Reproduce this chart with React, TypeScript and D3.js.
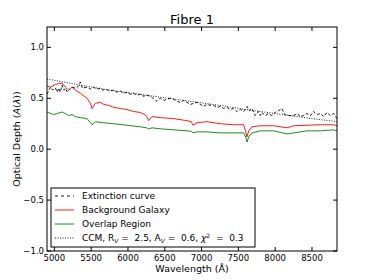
import React from "react";
import { scaleLinear, line } from "d3";

// wavelengths (Å) and optical depths
const galaxyWave = [4900, 4946, 5014, 5059, 5105, 5149, 5195, 5240, 5285, 5353, 5444, 5490, 5512, 5557, 5625, 5670, 5738, 5806, 5896, 5987, 6078, 6168, 6250, 6281, 6327, 6440, 6621, 6802, 6860, 6884, 6938, 7074, 7255, 7436, 7572, 7600, 7617, 7640, 7685, 7798, 7979, 8160, 8250, 8431, 8613, 8794, 8840];
const galaxyDepth = [0.62, 0.61, 0.635, 0.645, 0.65, 0.61, 0.58, 0.61, 0.58, 0.55, 0.5, 0.45, 0.4, 0.45, 0.46, 0.44, 0.43, 0.41, 0.4, 0.39, 0.37, 0.36, 0.33, 0.28, 0.32, 0.31, 0.3, 0.28, 0.27, 0.234, 0.26, 0.27, 0.25, 0.24, 0.24, 0.17, 0.12, 0.18, 0.22, 0.23, 0.23, 0.21, 0.23, 0.235, 0.24, 0.24, 0.23];

const overlapWave = [4900, 4990, 5105, 5150, 5195, 5240, 5285, 5353, 5444, 5512, 5557, 5670, 5806, 5987, 6168, 6250, 6281, 6327, 6440, 6621, 6802, 6860, 6884, 6938, 7074, 7255, 7436, 7572, 7600, 7617, 7640, 7685, 7798, 7979, 8160, 8250, 8431, 8613, 8794, 8840];
const overlapDepth = [0.365, 0.34, 0.365, 0.35, 0.33, 0.34, 0.32, 0.31, 0.3, 0.24, 0.27, 0.26, 0.25, 0.235, 0.22, 0.21, 0.2, 0.21, 0.2, 0.19, 0.18, 0.175, 0.16, 0.17, 0.17, 0.16, 0.16, 0.16, 0.12, 0.07, 0.12, 0.16, 0.18, 0.18, 0.15, 0.16, 0.18, 0.18, 0.19, 0.18];

const extWave = [4900, 4920, 4946, 4980, 5014, 5040, 5059, 5080, 5105, 5130, 5149, 5175, 5195, 5240, 5285, 5330, 5353, 5380, 5444, 5490, 5530, 5580, 5625, 5660, 5700, 5750, 5806, 5850, 5896, 5940, 5987, 6030, 6078, 6120, 6168, 6210, 6259, 6300, 6327, 6380, 6440, 6490, 6530, 6580, 6621, 6670, 6710, 6760, 6802, 6850, 6890, 6940, 6983, 7030, 7074, 7120, 7164, 7210, 7255, 7300, 7345, 7390, 7436, 7480, 7530, 7572, 7617, 7650, 7685, 7730, 7774, 7800, 7819, 7864, 7909, 7955, 8000, 8050, 8090, 8130, 8180, 8250, 8300, 8340, 8385, 8431, 8480, 8520, 8570, 8613, 8660, 8704, 8750, 8794, 8840];
const extDepth = [0.54, 0.57, 0.61, 0.58, 0.6, 0.56, 0.6, 0.56, 0.63, 0.58, 0.6, 0.56, 0.58, 0.61, 0.6, 0.62, 0.66, 0.6, 0.61, 0.59, 0.61, 0.59, 0.6, 0.58, 0.59, 0.57, 0.58, 0.56, 0.57, 0.55, 0.56, 0.54, 0.55, 0.53, 0.54, 0.52, 0.53, 0.52, 0.51, 0.47, 0.5, 0.48, 0.49, 0.5, 0.49, 0.47, 0.46, 0.48, 0.46, 0.44, 0.45, 0.46, 0.44, 0.42, 0.44, 0.43, 0.43, 0.41, 0.42, 0.4, 0.41, 0.39, 0.4, 0.37, 0.39, 0.37, 0.42, 0.38, 0.4, 0.33, 0.37, 0.33, 0.36, 0.33, 0.35, 0.33, 0.36, 0.38, 0.4, 0.34, 0.33, 0.33, 0.35, 0.32, 0.33, 0.35, 0.33, 0.37, 0.34, 0.35, 0.32, 0.36, 0.33, 0.35, 0.3];

const ccmWave = [4900, 5200, 5500, 5800, 6100, 6400, 6700, 7000, 7300, 7600, 7900, 8200, 8500, 8840];
const ccmDepth = [0.69, 0.65, 0.61, 0.575, 0.545, 0.515, 0.485, 0.455, 0.425, 0.39, 0.36, 0.33, 0.3, 0.27];

const xTicks = [5000, 5500, 6000, 6500, 7000, 7500, 8000, 8500];
const yTicks = [-1, -0.5, 0, 0.5, 1];

const font = "DejaVu Sans, sans-serif";
const sp = "\u00a0";

export default function App() {
  const width = 374,
    height = 280,
    left = 47,
    right = 337,
    top = 27,
    bottom = 251,
    x = scaleLinear().domain([4900, 8840]).range([left, right]),
    y = scaleLinear().domain([-1, 1.2]).range([bottom, top]);

  const path = (ws: number[], vs: number[]) =>
    line<number>()
      .x((_, i) => x(ws[i]))
      .y((v) => y(v))(vs) as string;

  const fmt = (v: number) => (v < 0 ? "\u2212" : "") + Math.abs(v).toFixed(1);

  const legend = [
    { dash: "3,3", color: "#000" },
    { dash: "", color: "#ff0000" },
    { dash: "", color: "#008000" },
    { dash: "1,1.5", color: "#000" },
  ];

  return (
    <svg
      width={width}
      height={height}
      style={{ position: "absolute", left: 0, top: 0, background: "#fff" }}
      fontFamily={font}
    >
      <defs>
        <clipPath id="plot">
          <rect x={left} y={top} width={right - left} height={bottom - top} />
        </clipPath>
      </defs>
      <text x={(left + right) / 2} y={24} textAnchor="middle" fontSize={13}>
        Fibre 1
      </text>

      <g clipPath="url(#plot)" fill="none" strokeWidth={0.9}>
        <path d={path(ccmWave, ccmDepth)} stroke="#000" strokeDasharray="1,1.5" />
        <path d={path(extWave, extDepth)} stroke="#000" strokeDasharray="3,2" />
        <path d={path(galaxyWave, galaxyDepth)} stroke="#ff0000" />
        <path d={path(overlapWave, overlapDepth)} stroke="#008000" />
      </g>

      <rect x={left} y={top} width={right - left} height={bottom - top} fill="none" stroke="#000" strokeWidth={1} />

      {xTicks.map((t) => (
        <g key={t} transform={`translate(${x(t)},0)`}>
          <line y1={bottom} y2={bottom - 4} stroke="#000" />
          <line y1={top} y2={top + 4} stroke="#000" />
          <text y={261} textAnchor="middle" fontSize={8.5}>
            {t}
          </text>
        </g>
      ))}
      {yTicks.map((t) => (
        <g key={t} transform={`translate(0,${y(t)})`}>
          <line x1={left} x2={left + 4} stroke="#000" />
          <line x1={right} x2={right - 4} stroke="#000" />
          <text x={left - 3} dy="0.32em" textAnchor="end" fontSize={8.5}>
            {fmt(t)}
          </text>
        </g>
      ))}

      <text x={(left + right) / 2} y={272} textAnchor="middle" fontSize={9.5}>
        Wavelength (Å)
      </text>
      <text
        transform={`translate(20,${(top + bottom) / 2}) rotate(-90)`}
        textAnchor="middle"
        fontSize={9.5}
      >
        Optical Depth (<tspan fontStyle="italic">A</tspan>(<tspan fontStyle="italic">λ</tspan>))
      </text>

      <g transform="translate(51,188)">
        <rect width={204} height={59} fill="#fff" stroke="#000" strokeWidth={1} />
        {legend.map((d, i) => (
          <line
            key={i}
            x1={4}
            x2={23}
            y1={8 + i * 14}
            y2={8 + i * 14}
            stroke={d.color}
            strokeDasharray={d.dash}
            strokeWidth={0.9}
          />
        ))}
        <g fontSize={9} dominantBaseline="central">
          <text x={31} y={8}>Extinction curve</text>
          <text x={31} y={22}>Background Galaxy</text>
          <text x={31} y={36}>Overlap Region</text>
          <text x={31} y={50}>
            {"CCM, R"}
            <tspan fontSize={6} dy={2} fontStyle="italic">V</tspan>
            <tspan dy={-2}>{sp + "=" + sp + sp + "2.5, A"}</tspan>
            <tspan fontSize={6} dy={2} fontStyle="italic">V</tspan>
            <tspan dy={-2}>{sp + "=" + sp + sp + "0.6, "}</tspan>
            <tspan fontStyle="italic">χ</tspan>
            <tspan fontSize={6} dy={-3}>2</tspan>
            <tspan dy={3}>{sp + sp + "=" + sp + sp + "0.3"}</tspan>
          </text>
        </g>
      </g>
    </svg>
  );
}
